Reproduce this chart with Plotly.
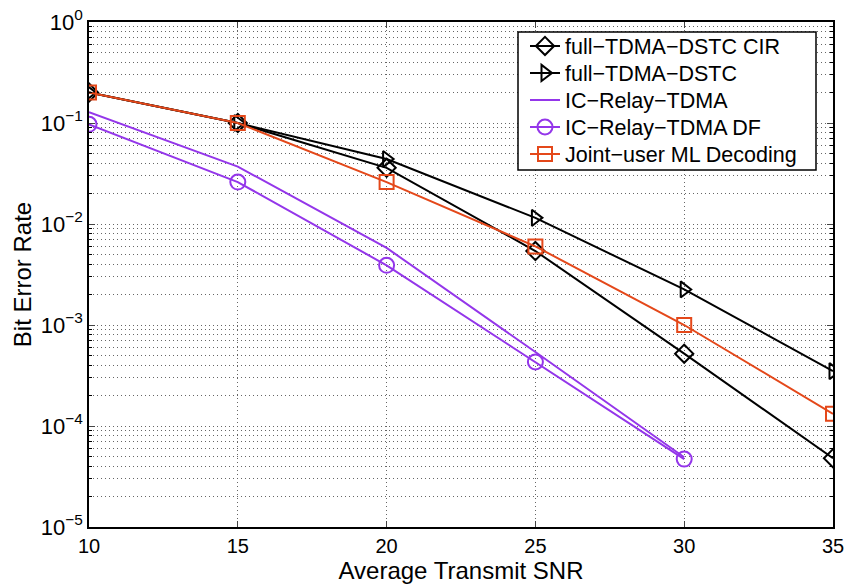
import plotly.graph_objects as go

snr = [10, 15, 20, 25, 30, 35]
snr_ic = [10, 15, 20, 25, 30]

ber_cir = [0.2, 0.1, 0.036, 5.4e-3, 5.2e-4, 4.8e-5]
ber_dstc = [0.2, 0.1, 0.044, 0.0115, 2.25e-3, 3.5e-4]
ber_ic = [0.128, 0.037, 5.8e-3, 5.4e-4, 4.9e-5]
ber_ic_df = [0.097, 0.026, 3.9e-3, 4.3e-4, 4.7e-5]
ber_joint = [0.2, 0.1, 0.026, 6.0e-3, 1.0e-3, 1.32e-4]

names = ["full\u2212TDMA\u2212DSTC CIR", "full\u2212TDMA\u2212DSTC", "IC\u2212Relay\u2212TDMA",
         "IC\u2212Relay\u2212TDMA DF", "Joint\u2212user ML Decoding"]

ytick_vals = [1, 0.1, 0.01, 1e-3, 1e-4, 1e-5]
ytick_text = ["10<sup>0</sup>", "10<sup>\u22121</sup>", "10<sup>\u22122</sup>",
              "10<sup>\u22123</sup>", "10<sup>\u22124</sup>", "10<sup>\u22125</sup>"]
xtick_vals = [10, 15, 20, 25, 30, 35]

BLACK = "#000000"
PURPLE = "#9436EA"
ORANGE = "#E4481A"

legend_ids = ["legend", "legend2", "legend3", "legend4", "legend5"]

fig = go.Figure()
fig.add_trace(go.Scatter(x=snr, y=ber_cir, name=names[0], mode="lines+markers", legend=legend_ids[0],
                         line=dict(color=BLACK, width=2),
                         marker=dict(symbol="diamond-open", size=14, line=dict(width=2, color=BLACK))))
fig.add_trace(go.Scatter(x=snr, y=ber_dstc, name=names[1], mode="lines+markers", legend=legend_ids[1],
                         line=dict(color=BLACK, width=2),
                         marker=dict(symbol="triangle-right-open", size=14, line=dict(width=2, color=BLACK))))
fig.add_trace(go.Scatter(x=snr_ic, y=ber_ic, name=names[2], mode="lines", legend=legend_ids[2],
                         line=dict(color=PURPLE, width=2)))
fig.add_trace(go.Scatter(x=snr_ic, y=ber_ic_df, name=names[3], mode="lines+markers", legend=legend_ids[3],
                         line=dict(color=PURPLE, width=2),
                         marker=dict(symbol="circle-open", size=15, line=dict(width=2, color=PURPLE))))
fig.add_trace(go.Scatter(x=snr, y=ber_joint, name=names[4], mode="lines+markers", legend=legend_ids[4],
                         line=dict(color=ORANGE, width=2),
                         marker=dict(symbol="square-open", size=14, line=dict(width=2, color=ORANGE))))

FONT = "Liberation Sans, Arial, Helvetica, sans-serif"
GRID = "#666666"
DOT = "1px,3px"

L, R, T, B = 89, 15, 22, 59
PW, PH = 848 - L - R, 586 - T - B

def px_x(p):
    return (p - L) / PW

def px_y(p):
    return 1 - (p - T) / PH

# legend frame (white box with black border) drawn over the grid
fig.add_shape(type="rect", xref="paper", yref="paper",
              x0=px_x(518), x1=px_x(816), y0=px_y(170), y1=px_y(32),
              line=dict(color="black", width=1.5), fillcolor="white", layer="above")

row_px = [46, 73, 100, 127, 154]
legends = {}
for lid, rp in zip(legend_ids, row_px):
    legends[lid] = dict(x=px_x(525), y=px_y(rp), xanchor="left", yanchor="middle",
                        bgcolor="rgba(0,0,0,0)", borderwidth=0,
                        font=dict(size=21.5, family=FONT), tracegroupgap=0)

fig.update_layout(
    width=848, height=586,
    margin=dict(l=L, r=R, t=T, b=B, autoexpand=False),
    paper_bgcolor="white", plot_bgcolor="white",
    font=dict(family=FONT, color="black", size=20),
    showlegend=True,
    **legends,
)
fig.update_xaxes(
    range=[10, 35], tickvals=xtick_vals, ticks="inside", ticklen=6,
    showline=True, linecolor="black", linewidth=1.5, mirror="ticks",
    showgrid=True, gridcolor=GRID, griddash=DOT, gridwidth=1,
    zeroline=False, tickfont=dict(size=20), automargin=False,
    title=dict(text="Average Transmit SNR", font=dict(size=24), standoff=0),
)
fig.update_yaxes(
    type="log", range=[-5, 0], tickvals=ytick_vals, ticktext=ytick_text,
    ticks="inside", ticklen=6,
    showline=True, linecolor="black", linewidth=1.5, mirror="ticks",
    showgrid=True, gridcolor=GRID, griddash=DOT, gridwidth=1,
    minor=dict(dtick="D1", ticks="inside", ticklen=3, showgrid=True,
               gridcolor=GRID, griddash=DOT, gridwidth=1, tickcolor="black"),
    zeroline=False, tickfont=dict(size=22), automargin=False,
    title=dict(text="Bit Error Rate", font=dict(size=24), standoff=2),
)

fig.write_html("out.html", config={"displayModeBar": False},
               post_script="document.body.style.margin='0';document.body.style.padding='0';")
